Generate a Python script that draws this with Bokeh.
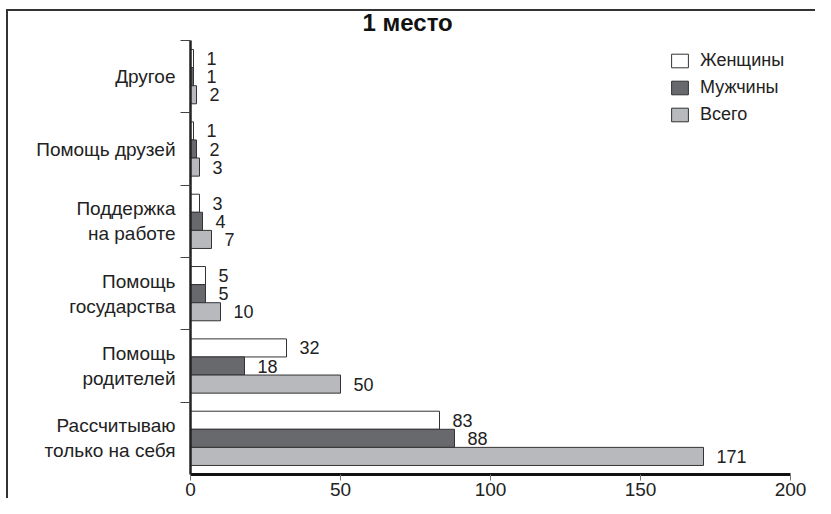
from bokeh.plotting import figure
from bokeh.models import Range1d, FixedTicker, ColumnDataSource, Legend, LegendItem
from bokeh.transform import dodge
from bokeh.embed import file_html
from bokeh.resources import INLINE
from bokeh.core.properties import value

# ---- data ----
categories = ["Рассчитываю\nтолько на себя", "Помощь\nродителей", "Помощь\nгосударства",
              "Поддержка\nна работе", "Помощь друзей", "Другое"]
women = [83, 32, 5, 3, 1, 1]
men = [88, 18, 5, 4, 2, 1]
total = [171, 50, 10, 7, 3, 2]
series_names = ["Женщины", "Мужчины", "Всего"]
x_ticks = [0, 50, 100, 150, 200]
title_text = "1 место"

FONT = "Liberation Sans"
ypos = list(range(len(categories)))

src = ColumnDataSource(dict(
    y=ypos,
    women=women, men=men, total=total,
    women_t=[str(v) for v in women],
    men_t=[str(v) for v in men],
    total_t=[str(v) for v in total],
))

p = figure(width=815, height=498, output_backend="svg", toolbar_location=None,
           x_range=Range1d(0, 200), y_range=Range1d(-0.5, len(categories) - 0.5),
           min_border_left=190, min_border_right=25, min_border_top=40, min_border_bottom=22)
# thin frame lines on the left and top of the whole picture
p.styles = {"box-shadow": "inset 6px 0 0 0 white, inset 0 9px 0 0 white, "
                          "inset 8px 0 0 0 #333, inset 0 11px 0 0 #333"}

p.title.text = title_text
p.title.align = "left"
p.title.offset = 172
p.title.text_font = FONT
p.title.text_font_size = "24px"
p.title.text_font_style = "bold"
p.title.text_color = "#111"

p.outline_line_color = None
p.xgrid.visible = False
p.ygrid.visible = False
p.background_fill_color = "white"
p.border_fill_alpha = 0

cols = [("women", "white"), ("men", "#68696d"), ("total", "#b8b9bd")]
offsets = [0.25, 0.0, -0.25]
renderers = []
for (key, color), off in zip(cols, offsets):
    r = p.hbar(y=dodge("y", off), left=0, right=key, height=0.25, source=src,
               fill_color=color, line_color="#333", line_width=1)
    renderers.append(r)
    p.text(x=key, y=dodge("y", off), text=key + "_t", source=src,
           x_offset=13, text_baseline="middle", text_align="left",
           text_font=value(FONT), text_font_size="18px", text_color="#222")

legend = Legend(items=[LegendItem(label=n, renderers=[r]) for n, r in zip(series_names, renderers)],
                location=(479, 349), orientation="vertical",
                glyph_width=21, glyph_height=17, label_height=18, spacing=6,
                label_standoff=10, padding=0, margin=0,
                border_line_color=None, background_fill_alpha=0,
                label_text_font=FONT, label_text_font_size="18px", label_text_color="#222")
p.add_layout(legend)

# y axis: labels at category centres, ticks at category boundaries
ya = p.yaxis[0]
ya.ticker = FixedTicker(ticks=ypos, minor_ticks=[i + 0.5 for i in ypos])
ya.major_label_overrides = {i: c for i, c in zip(ypos, categories)}
ya.major_tick_line_color = None
ya.minor_tick_line_color = "#444"
ya.minor_tick_line_width = 1
ya.minor_tick_out = 10
ya.minor_tick_in = 0
ya.axis_line_width = 2.5
ya.axis_line_color = "#222"
ya.major_label_standoff = 5
ya.major_label_text_font = FONT
ya.major_label_text_font_size = "19px"
ya.major_label_text_color = "#222"

xa = p.xaxis[0]
xa.ticker = FixedTicker(ticks=x_ticks, minor_ticks=[])
xa.axis_line_width = 3
xa.axis_line_color = "#111"
xa.major_tick_line_color = "#777"
xa.major_tick_line_width = 1
xa.major_tick_out = 6
xa.major_tick_in = 0
xa.major_label_standoff = 2
xa.major_label_text_font = FONT
xa.major_label_text_font_size = "19px"
xa.major_label_text_color = "#222"

open("out.html", "w").write(file_html(p, INLINE))
